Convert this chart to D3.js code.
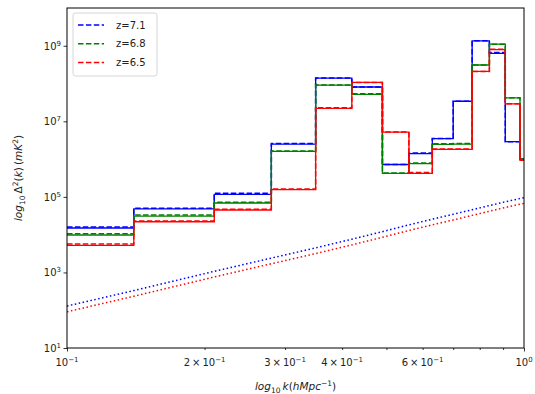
<!DOCTYPE html>
<html>
<head>
<meta charset="utf-8">
<script src="https://cdn.jsdelivr.net/npm/d3@7"></script>
<style>
  html, body { margin: 0; padding: 0; background: #fff; }
  svg { display: block; font-family: "DejaVu Sans", sans-serif; }
</style>
</head>
<body>
<svg id="chart" width="535" height="394"></svg>
<script>
// Bin edges in k (h/Mpc); last edge runs past the axis and is clipped
const kEdges = [0.1, 0.14, 0.21, 0.28, 0.35, 0.42, 0.49, 0.56, 0.63, 0.70, 0.77, 0.84, 0.91, 0.98, 1.05];

// Binned power spectrum, solid lines
const z71Solid = [1.5e4, 4.8e4, 1.17e5, 2.5e6, 1.4e8, 8.1e7, 7.2e5, 1.4e6, 3.5e6, 3.4e7, 1.35e9, 6.3e8, 2.9e6, 1.0e6];
const z68Solid = [9.8e3, 3.1e4, 6.9e4, 1.6e6, 9.1e7, 5.2e7, 4.2e5, 7.6e5, 2.45e6, 2.5e6, 3.1e8, 1.1e9, 4.2e7, 1.0e6];
const z65Solid = [5.2e3, 2.2e4, 4.5e4, 1.55e5, 2.2e7, 1.07e8, 5.2e6, 4.2e5, 1.8e6, 1.8e6, 2.1e8, 7.9e8, 2.9e7, 9.3e5];

// Binned power spectrum, dashed lines
const z71Dashed = [1.6e4, 5.0e4, 1.25e5, 2.6e6, 1.4e8, 8.1e7, 7.2e5, 1.45e6, 3.5e6, 3.4e7, 1.35e9, 6.6e8, 2.9e6, 1.0e6];
const z68Dashed = [1.05e4, 3.3e4, 7.2e4, 1.65e6, 9.1e7, 5.4e7, 4.3e5, 7.9e5, 2.55e6, 2.6e6, 3.1e8, 1.1e9, 4.2e7, 1.0e6];
const z65Dashed = [5.7e3, 2.3e4, 4.7e4, 1.62e5, 2.3e7, 1.07e8, 5.2e6, 4.4e5, 1.85e6, 1.85e6, 2.1e8, 8.1e8, 2.9e7, 9.3e5];

// Noise curves, dotted lines
const kNoise = [0.1, 0.14, 0.21, 0.28, 0.35, 0.42, 0.49, 0.56, 0.63, 0.70, 0.77, 0.84, 0.91, 1.0];
const noiseZ71 = [129, 331, 1070, 2400, 4470, 7590, 1.2e4, 1.82e4, 2.57e4, 3.47e4, 4.57e4, 5.89e4, 7.41e4, 9.55e4];
const noiseZ65 = [91, 234, 759, 1700, 3160, 5370, 8510, 1.29e4, 1.82e4, 2.45e4, 3.24e4, 4.17e4, 5.25e4, 6.76e4];

const seriesLabels = ["z=7.1", "z=6.8", "z=6.5"];
const seriesColors = ["blue", "green", "red"];

const xTickValues = [0.1, 0.2, 0.3, 0.4, 0.6, 1.0];
const xTickLabels = [["10", "\u22121"], ["2\u2009\u00d7\u200910", "\u22121"], ["3\u2009\u00d7\u200910", "\u22121"], ["4\u2009\u00d7\u200910", "\u22121"], ["6\u2009\u00d7\u200910", "\u22121"], ["10", "0"]];
const xMinorUnlabelled = [0.5, 0.7, 0.8, 0.9];
const yTickValues = [1e1, 1e3, 1e5, 1e7, 1e9];
const yTickLabels = [["10", "1"], ["10", "3"], ["10", "5"], ["10", "7"], ["10", "9"]];

const margin = { left: 67, right: 11, top: 8, bottom: 46 };
const W = 535, H = 394;
const pw = W - margin.left - margin.right;
const ph = H - margin.top - margin.bottom;

const svg = d3.select("#chart");
const g = svg.append("g").attr("transform", `translate(${margin.left},${margin.top})`);

const x = d3.scaleLog().domain([0.1, 1.0]).range([0, pw]);
const y = d3.scaleLog().domain([1e1, 1e10]).range([ph, 0]);

svg.append("defs").append("clipPath").attr("id", "plotclip")
  .append("rect").attr("x", 0).attr("y", 0).attr("width", pw).attr("height", ph);

const plot = g.append("g").attr("clip-path", "url(#plotclip)");

const stepLine = d3.line()
  .x(d => x(d[0]))
  .y(d => y(d[1]))
  .curve(d3.curveStepAfter);

function stepPoints(vals) {
  const pts = vals.map((v, i) => [kEdges[i], v]);
  pts.push([kEdges[kEdges.length - 1], vals[vals.length - 1]]);
  return pts;
}

const smoothLine = d3.line().x(d => x(d[0])).y(d => y(d[1]));

const solids = [z71Solid, z68Solid, z65Solid];
const dashes = [z71Dashed, z68Dashed, z65Dashed];

// Step histograms: solid then dashed for each redshift
solids.forEach((vals, i) => {
  plot.append("path")
    .attr("d", stepLine(stepPoints(vals)))
    .attr("fill", "none")
    .attr("stroke", seriesColors[i])
    .attr("stroke-width", 1.3);
  plot.append("path")
    .attr("d", stepLine(stepPoints(dashes[i])))
    .attr("fill", "none")
    .attr("stroke", seriesColors[i])
    .attr("stroke-width", 1.5)
    .attr("stroke-dasharray", "5.5,2.4");
});

// Noise curves
[[noiseZ71, "blue"], [noiseZ65, "red"]].forEach(([vals, col]) => {
  plot.append("path")
    .attr("d", smoothLine(vals.map((v, i) => [kNoise[i], v])))
    .attr("fill", "none")
    .attr("stroke", col)
    .attr("stroke-width", 1.5)
    .attr("stroke-dasharray", "1.5,2.5");
});

// Axes
const xAxis = d3.axisBottom(x).tickValues(xTickValues).tickSize(3.5).tickFormat("");
const xMinor = d3.axisBottom(x).tickValues(xMinorUnlabelled).tickSize(2).tickFormat("");
const yAxis = d3.axisLeft(y).tickValues(yTickValues).tickSize(3.5).tickFormat("");

const gx = g.append("g").attr("transform", `translate(0,${ph})`).call(xAxis);
g.append("g").attr("transform", `translate(0,${ph})`).call(xMinor).select(".domain").remove();
const gy = g.append("g").call(yAxis);
g.selectAll(".domain").remove();
g.selectAll(".tick line").attr("stroke", "#000").attr("stroke-width", 0.8);
// shorter ticks for the minor labelled values
gx.selectAll(".tick line").attr("y2", d => (d === 0.1 || d === 1.0) ? 3.5 : 2);

function powLabel(sel, parts, fs) {
  sel.append("tspan").text(parts[0]);
  sel.append("tspan").attr("dy", -fs * 0.42).attr("font-size", fs * 0.7).text(parts[1]);
}

xTickValues.forEach((v, i) => {
  const t = g.append("text")
    .attr("x", x(v))
    .attr("y", ph + 18)
    .attr("text-anchor", "middle")
    .attr("font-size", 10)
    .attr("fill", "#222");
  powLabel(t, xTickLabels[i], 10);
});

yTickValues.forEach((v, i) => {
  const t = g.append("text")
    .attr("x", -6)
    .attr("y", y(v) + 4)
    .attr("text-anchor", "end")
    .attr("font-size", 10)
    .attr("fill", "#222");
  powLabel(t, yTickLabels[i], 10);
});

// Frame
g.append("rect").attr("x", 0).attr("y", 0).attr("width", pw).attr("height", ph)
  .attr("fill", "none").attr("stroke", "#000").attr("stroke-width", 1);

// Axis titles
const xt = svg.append("text")
  .attr("x", margin.left + pw / 2)
  .attr("y", 390)
  .attr("text-anchor", "middle")
  .attr("font-size", 10.5)
  .attr("fill", "#222");
xt.append("tspan").attr("font-style", "italic").text("log");
xt.append("tspan").attr("dy", 3).attr("font-size", 7.5).text("10");
xt.append("tspan").attr("dy", -3).attr("font-style", "italic").text("\u2009k");
xt.append("tspan").text("(");
xt.append("tspan").attr("font-style", "italic").text("hMpc");
xt.append("tspan").attr("dy", -4.5).attr("font-size", 7.5).text("\u22121");
xt.append("tspan").attr("dy", 4.5).text(")");

const yt = svg.append("text")
  .attr("transform", `translate(22,${margin.top + ph / 2}) rotate(-90)`)
  .attr("text-anchor", "middle")
  .attr("font-size", 10.5)
  .attr("fill", "#222");
yt.append("tspan").attr("font-style", "italic").text("log");
yt.append("tspan").attr("dy", 3).attr("font-size", 7.5).text("10");
yt.append("tspan").attr("dy", -3).text("\u2009\u0394");
yt.append("tspan").attr("dy", -4.5).attr("font-size", 7.5).text("2");
yt.append("tspan").attr("dy", 4.5).text("(");
yt.append("tspan").attr("font-style", "italic").text("k");
yt.append("tspan").text(")\u2009(");
yt.append("tspan").attr("font-style", "italic").text("mK");
yt.append("tspan").attr("dy", -4.5).attr("font-size", 7.5).text("2");
yt.append("tspan").attr("dy", 4.5).text(")");

// Legend
const leg = g.append("g").attr("transform", "translate(6,5)");
leg.append("rect").attr("x", 0).attr("y", 0).attr("width", 84).attr("height", 63)
  .attr("rx", 2.5).attr("fill", "#fff").attr("fill-opacity", 0.8)
  .attr("stroke", "#ccc").attr("stroke-width", 0.8);
seriesLabels.forEach((lab, i) => {
  const yy = 12 + i * 18.7;
  leg.append("line").attr("x1", 5).attr("x2", 31).attr("y1", yy).attr("y2", yy)
    .attr("stroke", seriesColors[i]).attr("stroke-width", 1.5).attr("stroke-dasharray", "5.5,2.4");
  leg.append("text").attr("x", 43).attr("y", yy + 3.6).attr("font-size", 10).attr("fill", "#222").text(lab);
});
</script>
</body>
</html>
